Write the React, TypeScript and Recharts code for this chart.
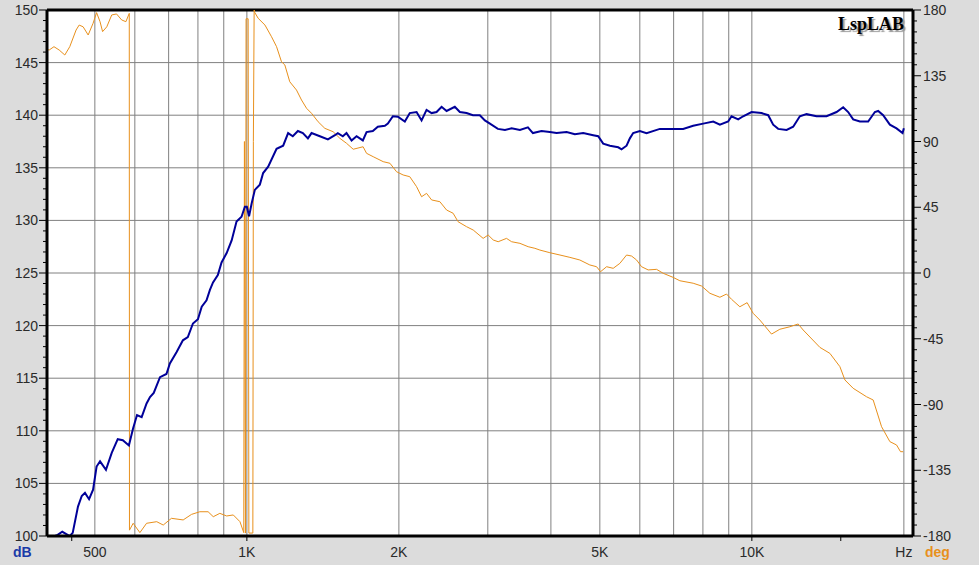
import {
  CartesianGrid,
  Line,
  LineChart,
  ReferenceLine,
  XAxis,
  YAxis,
} from "recharts";

// frequency response (dB, left axis)
const splFreq = [
  417, 422, 431, 446, 452, 463, 471, 478, 487, 496, 504, 512, 526, 540, 555,
  568, 584, 595, 606, 619, 633, 643, 654, 673, 693, 704, 726, 747, 764, 782,
  800, 814, 832, 845, 857, 876, 891, 912, 933, 954, 976, 991, 1000, 1010, 1022,
  1037, 1061, 1077, 1102, 1145, 1180, 1207, 1233, 1262, 1291, 1321, 1343, 1395,
  1447, 1494, 1514, 1549, 1575, 1612, 1649, 1697, 1726, 1776, 1817, 1876, 1902,
  1946, 1991, 2055, 2102, 2168, 2218, 2269, 2322, 2375, 2430, 2486, 2581, 2641,
  2723, 2803, 2893, 2960, 3029, 3141, 3244, 3344, 3473, 3602, 3685, 3833, 3981,
  4105, 4297, 4462, 4635, 4851, 4963, 5077, 5235, 5437, 5521, 5648, 5734, 5821,
  6001, 6187, 6573, 6985, 7311, 7652, 8010, 8385, 8644, 8976, 9116, 9395, 9612,
  9987, 10452, 10773, 11021, 11275, 11716, 12074, 12446, 12833, 13432, 14058,
  14714, 15165, 15514, 15872, 16366, 16995, 17523, 17788, 18197, 18763, 19343,
  19880, 20000,
];
const splDb = [
  100.0, 100.1, 100.4, 100.0, 100.3, 102.8, 103.8, 104.1, 103.5, 104.4, 106.6,
  107.1, 106.3, 107.9, 109.2, 109.1, 108.6, 110.2, 111.5, 111.3, 112.6, 113.2,
  113.6, 115.1, 115.4, 116.4, 117.5, 118.6, 118.9, 120.2, 120.6, 121.8, 122.4,
  123.4, 124.1, 124.8, 126.0, 126.9, 128.1, 129.9, 130.35, 131.3, 131.3, 130.4,
  131.6, 132.9, 133.4, 134.5, 135.1, 136.8, 137.1, 138.3, 138.0, 138.5, 138.3,
  137.8, 138.3, 138.0, 137.7, 138.1, 138.3, 138.0, 138.3, 137.6, 138.0, 137.6,
  138.4, 138.5, 138.9, 139.0, 139.2, 139.9, 139.85, 139.4, 140.2, 140.3, 139.5,
  140.5, 140.2, 140.3, 140.8, 140.4, 140.8, 140.3, 140.2, 140.0, 140.0, 139.5,
  139.2, 138.7, 138.6, 138.75, 138.6, 138.85, 138.3, 138.5, 138.4, 138.3, 138.4,
  138.2, 138.3, 138.1, 138.0, 137.3, 137.1, 136.95, 136.75, 137.1, 137.8, 138.3,
  138.5, 138.3, 138.7, 138.7, 138.7, 139.0, 139.2, 139.4, 139.1, 139.4, 139.9,
  139.6, 139.9, 140.3, 140.2, 140.0, 139.1, 138.7, 138.6, 138.9, 139.9, 140.1,
  139.9, 139.9, 140.3, 140.75, 140.3, 139.6, 139.4, 139.4, 140.3, 140.4, 140.0,
  139.1, 138.75, 138.3, 138.75,
];

// phase (deg, right axis), wrapped at +-180
const phaseFreq = [
  402, 406, 415, 425, 436, 446, 459, 465.5, 474, 485, 496, 504, 512, 518, 528,
  540, 552, 565, 576, 585, 585.5, 595.5, 614, 633, 663, 683, 709, 748, 777, 807,
  838, 858, 884, 912, 940, 969, 986, 989, 993.6, 996.4, 1005.9, 1009.2, 1027.7,
  1030.1, 1033.8, 1037.1, 1053, 1086, 1119, 1145, 1171, 1189, 1216, 1254, 1283,
  1313, 1343, 1384, 1427, 1482, 1528, 1575, 1624, 1699, 1726, 1779, 1862, 1920,
  1979, 2039, 2102, 2168, 2218, 2269, 2322, 2411, 2486, 2561, 2620, 2723, 2807,
  2937, 3005, 3075, 3145, 3267, 3344, 3473, 3606, 3718, 3804, 3981, 4169, 4362,
  4564, 4777, 4926, 5017, 5157, 5314, 5478, 5648, 5779, 5912, 6048, 6233, 6476,
  6675, 6985, 7201, 7652, 7951, 8259, 8644, 8910, 9116, 9467, 9787, 10060,
  10371, 10939, 11360, 11891, 12351, 12636, 13637, 14273, 14940, 15285, 15872,
  16871, 17388, 18066, 18763, 19343, 19697, 19936,
];
const phaseDeg = [
  153, 152.6, 154.9, 152.6, 149.2, 154.9, 166.3, 169.7, 168.5, 162.9, 170.9,
  178.2, 172, 165.2, 168.5, 176.6, 177.3, 173.2, 172, 177.7, -176, -171.3,
  -177.7, -171.3, -170.2, -172.5, -167.9, -169.0, -165.2, -163.4, -163.4,
  -166.8, -164.5, -166.3, -165.6, -170.2, -177.7, 90, -178, 174, 174, -178,
  -178, 90, 180, 178.2, 174.3, 169.7, 161.7, 154.9, 144.6, 142.4, 130.9, 125.2,
  118.4, 112.7, 109.3, 103.5, 99, 96.7, 92.2, 88.8, 84.7, 86.4, 81.9, 79.6,
  76.2, 75.1, 69.3, 67.1, 65.9, 59.1, 52.2, 54.5, 50, 48.8, 43.1, 40.9, 35.1,
  31.7, 29.4, 23.7, 26, 22.6, 21.4, 23.7, 21.4, 20.3, 18, 16.9, 15.7, 13.9,
  12.3, 10.7, 8.9, 5.5, 4.3, 0.9, 4.3, 3.2, 6.6, 12.3, 11.6, 8.9, 4.3, 2.1, 2.5,
  -0.2, -3.0, -5.3, -7, -8.9, -13.9, -16.6, -14.4, -18, -23.1, -20.3, -27.6,
  -32.2, -41.8, -38.5, -36.8, -34.9, -39, -50.9, -55, -64.1, -73.2, -78.9,
  -84.7, -86.9, -105.2, -115.4, -117.7, -122.3, -122.3,
];

const gridFreqs = [
  500, 600, 700, 800, 900, 1000, 2000, 3000, 4000, 5000, 6000, 7000, 8000,
  9000, 10000, 20000,
];
const freqTicks = [450, 500, 1000, 2000, 5000, 10000, 15000, 20000];
const freqLabels: Record<number, string> = {
  500: "500",
  1000: "1K",
  2000: "2K",
  5000: "5K",
  10000: "10K",
  20000: "Hz",
};
const freqMarks = [450, 1000, 10000, 15000];

const dbTicks = Array.from({ length: 51 }, (_, i) => 100 + i);
const dbGrid = [100, 105, 110, 115, 120, 125, 130, 135, 140, 145, 150];
const degTicks = Array.from({ length: 49 }, (_, i) => -180 + i * 7.5);

const splData = splFreq.map((f, i) => ({ f, db: splDb[i] }));
const phaseData = phaseFreq.map((f, i) => ({ f, deg: phaseDeg[i] }));

const LABEL = "#2a2a2a";
const FONT = "'Liberation Sans', Arial, sans-serif";
const BLUE = "#000099";
const ORANGE = "#e8901c";

function LeftTick(props: any) {
  const { x, y, payload } = props;
  const major = payload.value % 5 === 0;
  return (
    <g>
      <line x1={x - (major ? 8 : 4)} x2={x} y1={y} y2={y} stroke="#000" />
      {major && (
        <text
          x={x - 9}
          y={y}
          dy="0.36em"
          textAnchor="end"
          fontSize={14}
          fontFamily={FONT}
          fill={LABEL}
        >
          {payload.value}
        </text>
      )}
    </g>
  );
}

function RightTick(props: any) {
  const { x, y, payload } = props;
  const major = Math.abs(payload.value % 45) < 0.01;
  return (
    <g>
      <line x1={x} x2={x + (major ? 8 : 4)} y1={y} y2={y} stroke="#000" />
      {major && (
        <text
          x={x + 10}
          y={y}
          dy="0.36em"
          textAnchor="start"
          fontSize={14}
          fontFamily={FONT}
          fill={LABEL}
        >
          {payload.value}
        </text>
      )}
    </g>
  );
}

function FreqTick(props: any) {
  const { x, y, payload } = props;
  const label = freqLabels[payload.value];
  const mark = freqMarks.includes(payload.value);
  return (
    <g>
      {mark && <line x1={x} x2={x} y1={y} y2={y + 5} stroke="#000" />}
      {label && (
        <text
          x={x}
          y={y + 16}
          dy="0.36em"
          textAnchor="middle"
          fontSize={14}
          fontFamily={FONT}
          fill={LABEL}
        >
          {label}
        </text>
      )}
    </g>
  );
}

export default function App() {
  return (
    <div
      style={{
        position: "relative",
        width: 979,
        height: 565,
        background: "#dcdcdc",
      }}
    >
      <style>{"body{margin:0}"}</style>
      <LineChart
        width={979}
        height={565}
        margin={{ top: 10, right: 0, bottom: 0, left: 0 }}
      >
        <CartesianGrid
          yAxisId="left"
          stroke="#808080"
          fill="#ffffff"
          fillOpacity={1}
          horizontalValues={dbGrid}
          verticalValues={gridFreqs}
        />
        <XAxis
          dataKey="f"
          type="number"
          scale="log"
          domain={[402, 20850]}
          allowDataOverflow
          ticks={freqTicks}
          interval={0}
          height={29}
          tickSize={0}
          tickMargin={0}
          tickLine={false}
          tick={<FreqTick />}
          axisLine={{ stroke: "#000", strokeWidth: 3 }}
        />
        <YAxis
          yAxisId="left"
          orientation="left"
          type="number"
          domain={[100, 150]}
          allowDataOverflow
          ticks={dbTicks}
          interval={0}
          width={47}
          tickSize={0}
          tickMargin={0}
          tickLine={false}
          tick={<LeftTick />}
          axisLine={{ stroke: "#000", strokeWidth: 3 }}
        />
        <YAxis
          yAxisId="right"
          orientation="right"
          type="number"
          domain={[-180, 180]}
          allowDataOverflow
          ticks={degTicks}
          interval={0}
          width={66}
          tickSize={0}
          tickMargin={0}
          tickLine={false}
          tick={<RightTick />}
          axisLine={{ stroke: "#000", strokeWidth: 3 }}
        />
        <ReferenceLine
          yAxisId="left"
          y={150}
          stroke="#000"
          strokeWidth={3}
        />
        <Line
          yAxisId="right"
          data={phaseData}
          dataKey="deg"
          type="linear"
          stroke={ORANGE}
          strokeWidth={1}
          dot={false}
          isAnimationActive={false}
        />
        <Line
          yAxisId="left"
          data={splData}
          dataKey="db"
          type="linear"
          stroke={BLUE}
          strokeWidth={2}
          dot={false}
          isAnimationActive={false}
        />
      </LineChart>
      <div
        style={{
          position: "absolute",
          left: 838,
          top: 14,
          fontFamily: "'Liberation Serif', 'Times New Roman', serif",
          fontWeight: "bold",
          fontSize: 18,
          color: "#000",
          textShadow: "2px 2px 1px #999",
          lineHeight: "20px",
        }}
      >
        LspLAB
      </div>
      <div
        style={{
          position: "absolute",
          left: 13,
          top: 543,
          fontFamily: FONT,
          fontWeight: "bold",
          fontSize: 14,
          color: "#1a3aa8",
          lineHeight: "18px",
        }}
      >
        dB
      </div>
      <div
        style={{
          position: "absolute",
          left: 925,
          top: 543,
          fontFamily: FONT,
          fontWeight: "bold",
          fontSize: 14,
          color: ORANGE,
          lineHeight: "18px",
        }}
      >
        deg
      </div>
    </div>
  );
}
